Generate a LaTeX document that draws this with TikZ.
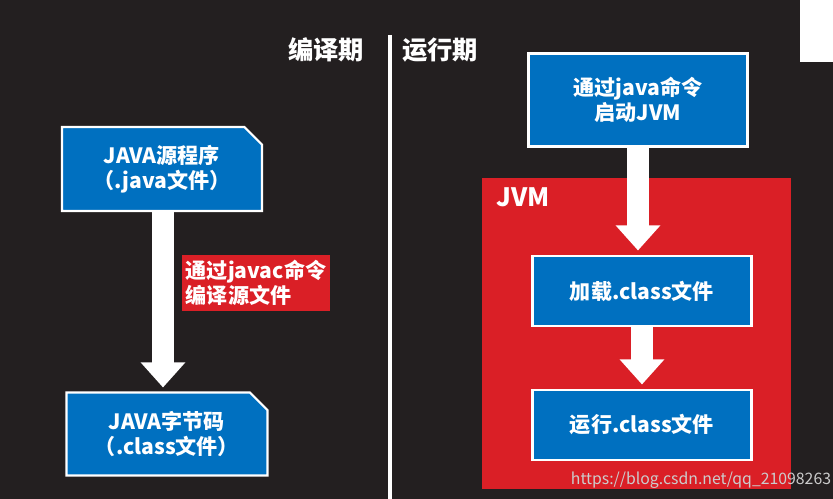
\documentclass[tikz,border=0pt]{standalone}
\usepackage{fontspec}
\setmainfont{Noto Sans CJK SC}
\usetikzlibrary{arrows.meta,shapes.misc}
\definecolor{bg}{HTML}{231F20}
\definecolor{boxblue}{HTML}{0070C0}
\definecolor{jvmred}{HTML}{DA1F26}

\begin{document}
\begin{tikzpicture}[x=0.02cm,y=-0.02cm,
    box/.style={draw=white,line width=1.2pt,fill=boxblue,text=white,font=\bfseries\large,align=center,inner sep=0pt},
    cut/.style={box,chamfered rectangle,chamfered rectangle corners=north east,chamfered rectangle xsep=5pt,chamfered rectangle ysep=5pt},
    flow/.style={white,line width=0.44cm,-{Triangle[length=0.5cm,width=0.86cm]},shorten >=2pt},
    title/.style={text=white,font=\bfseries\Large}]
        \fill[bg] (0,0) rectangle (833,499);
        \useasboundingbox (0,0) rectangle (833,499);
        \fill[white] (800,0) rectangle (833,62);
        \draw[white,line width=2pt] (390,35) -- (390,499);

        \node[title] (compile) at (326,50) {编译期};
        \node[title] (run) at (440,50) {运行期};

        %compile side
        \node[cut,minimum width=200*0.02cm,minimum height=84*0.02cm] (src) at (162,169) {JAVA源程序\\（.java文件）};
        \node[cut,minimum width=201*0.02cm,minimum height=83*0.02cm] (cls) at (167,434) {JAVA字节码\\（.class文件）};
        \node[fill=jvmred,text=white,font=\bfseries\large,align=left,minimum width=142*0.02cm,minimum height=56*0.02cm,inner sep=2pt] (javac) at (256,283) {通过javac命令\\编译源文件};
        \draw[flow] (163,211) -- (163,391);

        %run side
        \fill[jvmred] (482,178) rectangle (791,489);
        \node[title] (jvm) at (523,197) {JVM};
        \node[box,minimum width=219*0.02cm,minimum height=93*0.02cm] (start) at (638,100) {通过java命令\\启动JVM};
        \node[box,minimum width=219*0.02cm,minimum height=70*0.02cm] (load) at (642,291) {加载.class文件};
        \node[box,minimum width=219*0.02cm,minimum height=70*0.02cm] (exec) at (642,425) {运行.class文件};
        \draw[flow] (638,146) -- (638,254);
        \draw[flow] (642,326) -- (642,388);

        \node[text=white!80!black,font=\small] (mark) at (701,480) {https://blog.csdn.net/qq\_21098263};
\end{tikzpicture}
\end{document}
